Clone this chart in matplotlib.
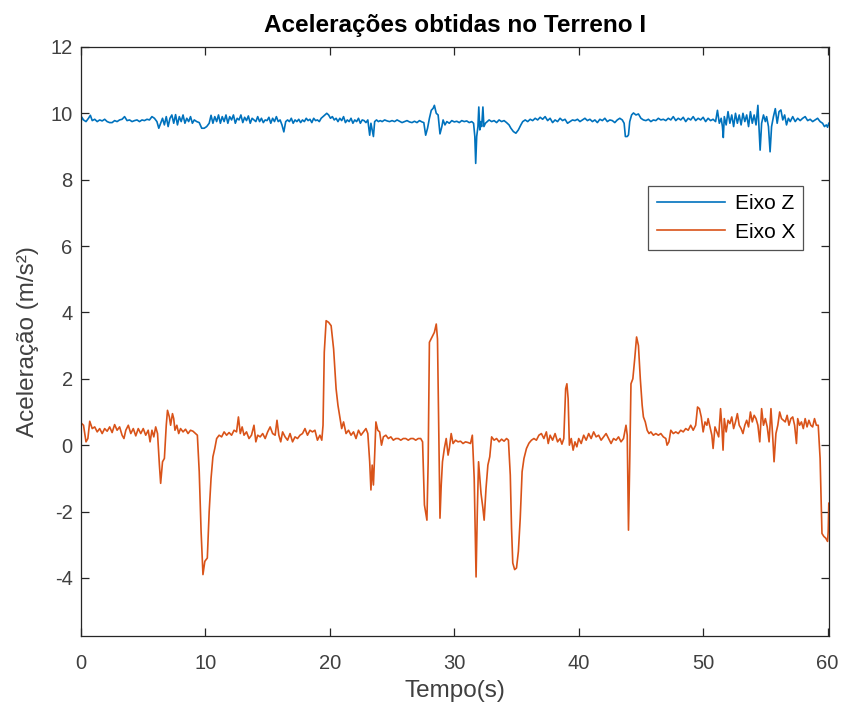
import matplotlib
matplotlib.use("Agg")
import matplotlib.pyplot as plt

plt.rcParams['font.family'] = ['Liberation Sans', 'DejaVu Sans']
plt.rcParams['axes.unicode_minus'] = False

title = "Acelerações obtidas no Terreno I"
xlabel = "Tempo(s)"
ylabel = "Aceleração (m/s²)"
labels = ["Eixo Z", "Eixo X"]
xticks = [0, 10, 20, 30, 40, 50, 60]
yticks = [-4, -2, 0, 2, 4, 6, 8, 10, 12]

t_x = [0.0, 0.2, 0.4, 0.55, 0.7, 0.9, 1.1, 1.3, 1.5, 1.7, 1.9, 2.1, 2.3, 2.5, 2.7, 2.9, 3.1, 3.3, 3.45, 3.6,
       3.8, 4.0, 4.2, 4.4, 4.6, 4.8, 5.0, 5.2, 5.4, 5.55, 5.7, 5.85, 6.0, 6.15, 6.3, 6.4, 6.55, 6.7, 6.85, 6.95,
       7.1, 7.2, 7.35, 7.45, 7.55, 7.7, 7.85, 8.0, 8.2, 8.4, 8.6, 8.8, 9.0, 9.2, 9.35, 9.5, 9.65, 9.8, 9.95, 10.15,
       10.3, 10.45, 10.6, 10.75, 10.9, 11.1, 11.3, 11.5, 11.7, 11.9, 12.1, 12.3, 12.5, 12.65, 12.8, 12.95, 13.1, 13.3, 13.5, 13.7,
       13.9, 14.05, 14.2, 14.4, 14.6, 14.8, 15.0, 15.2, 15.4, 15.6, 15.75, 15.9, 16.05, 16.2, 16.4, 16.6, 16.8, 17.0, 17.2, 17.4,
       17.6, 17.8, 18.0, 18.2, 18.4, 18.6, 18.8, 19.0, 19.2, 19.35, 19.45, 19.55, 19.7, 19.9, 20.1, 20.3, 20.5, 20.65, 20.8, 20.95,
       21.1, 21.3, 21.5, 21.7, 21.9, 22.1, 22.3, 22.5, 22.7, 22.9, 23.05, 23.2, 23.3, 23.4, 23.5, 23.6, 23.7, 23.85, 24.0, 24.15,
       24.3, 24.5, 24.7, 24.9, 25.1, 25.3, 25.5, 25.7, 25.9, 26.1, 26.3, 26.5, 26.7, 26.9, 27.1, 27.3, 27.45, 27.6, 27.8, 27.9,
       28.0, 28.2, 28.4, 28.55, 28.65, 28.75, 28.85, 28.95, 29.05, 29.2, 29.35, 29.5, 29.6, 29.75, 29.9, 30.1, 30.3, 30.5, 30.7, 30.9,
       31.1, 31.3, 31.45, 31.6, 31.75, 31.85, 31.95, 32.05, 32.15, 32.3, 32.4, 32.55, 32.7, 32.85, 33.0, 33.2, 33.4, 33.6, 33.8, 34.0,
       34.2, 34.35, 34.5, 34.6, 34.7, 34.85, 35.0, 35.15, 35.3, 35.45, 35.6, 35.8, 36.0, 36.2, 36.4, 36.6, 36.8, 37.0, 37.2, 37.4,
       37.55, 37.7, 37.9, 38.1, 38.3, 38.5, 38.65, 38.8, 38.95, 39.05, 39.15, 39.25, 39.4, 39.55, 39.7, 39.85, 40.0, 40.2, 40.4, 40.6,
       40.8, 41.0, 41.2, 41.4, 41.6, 41.8, 42.0, 42.2, 42.4, 42.6, 42.8, 43.0, 43.2, 43.4, 43.6, 43.8, 43.9, 44.0, 44.1, 44.2,
       44.35, 44.5, 44.65, 44.8, 44.95, 45.1, 45.2, 45.35, 45.5, 45.65, 45.8, 46.0, 46.2, 46.4, 46.6, 46.8, 47.0, 47.1, 47.25, 47.4,
       47.6, 47.8, 48.0, 48.2, 48.4, 48.6, 48.8, 49.0, 49.2, 49.4, 49.55, 49.7, 49.85, 50.0, 50.15, 50.3, 50.4, 50.55, 50.7, 50.8,
       50.95, 51.1, 51.25, 51.4, 51.5, 51.6, 51.7, 51.85, 52.0, 52.15, 52.3, 52.45, 52.6, 52.75, 52.9, 53.05, 53.2, 53.35, 53.5, 53.65,
       53.8, 53.95, 54.1, 54.25, 54.4, 54.55, 54.7, 54.85, 55.0, 55.15, 55.3, 55.45, 55.6, 55.7, 55.85, 56.0, 56.15, 56.3, 56.45, 56.6,
       56.75, 56.9, 57.05, 57.2, 57.35, 57.5, 57.6, 57.75, 57.9, 58.05, 58.2, 58.35, 58.5, 58.65, 58.8, 58.95, 59.1, 59.25, 59.4, 59.55,
       59.7, 59.85, 60.0, 60.05, 60.1]
acc_x = [0.67, 0.6, 0.1, 0.2, 0.72, 0.5, 0.55, 0.4, 0.5, 0.35, 0.5, 0.42, 0.55, 0.38, 0.62, 0.45, 0.55, 0.3, 0.2, 0.45,
         0.6, 0.35, 0.5, 0.28, 0.5, 0.35, 0.5, 0.3, 0.45, 0.1, 0.45, 0.25, 0.55, 0.35, -0.6, -1.15, -0.5, -0.4, 0.6, 1.05,
         0.85, 0.6, 0.95, 0.8, 0.45, 0.6, 0.35, 0.5, 0.4, 0.48, 0.35, 0.45, 0.42, 0.35, 0.3, -0.8, -2.6, -3.9, -3.5, -3.4,
         -2.0, -1.0, -0.35, -0.1, 0.2, 0.3, 0.25, 0.4, 0.3, 0.38, 0.3, 0.45, 0.4, 0.85, 0.35, 0.55, 0.3, 0.4, 0.2, 0.3,
         0.6, 0.1, 0.3, 0.25, 0.35, 0.2, 0.4, 0.55, 0.35, 0.3, 0.75, 0.3, 0.1, 0.4, 0.25, 0.15, 0.35, 0.1, 0.25, 0.2,
         0.3, 0.35, 0.5, 0.3, 0.45, 0.4, 0.45, 0.15, 0.3, 0.15, 0.6, 2.8, 3.75, 3.7, 3.6, 2.9, 1.7, 1.2, 0.85, 0.5,
         0.7, 0.35, 0.45, 0.3, 0.4, 0.2, 0.45, 0.3, 0.4, 0.5, 0.35, -0.5, -1.35, -0.6, -1.2, -0.3, 0.7, 0.45, 0.4, 0.0,
         0.25, 0.3, 0.2, 0.25, 0.15, 0.2, 0.2, 0.15, 0.2, 0.2, 0.15, 0.2, 0.2, 0.15, 0.2, 0.2, 0.1, -1.8, -2.26, -0.5,
         3.1, 3.25, 3.4, 3.65, 3.2, 0.5, -2.2, -1.2, -0.5, -0.1, 0.2, -0.3, -0.1, 0.35, 0.05, 0.15, 0.1, 0.12, 0.05, 0.1,
         0.08, 0.05, 0.3, -1.0, -3.97, -2.0, -0.5, -1.0, -1.46, -1.9, -2.26, -1.3, -0.6, -0.35, 0.25, 0.15, 0.2, 0.1, 0.18, 0.12,
         0.2, 0.15, -0.9, -2.5, -3.55, -3.75, -3.7, -3.2, -2.2, -0.8, -0.4, -0.1, 0.06, 0.15, 0.2, 0.15, 0.3, 0.35, 0.2, 0.4,
         0.05, 0.3, 0.15, 0.35, 0.1, 0.2, 0.03, 0.2, 1.7, 1.85, 1.4, 0.0, 0.2, -0.15, 0.1, -0.05, 0.2, 0.05, 0.3, 0.15,
         0.35, 0.2, 0.4, 0.25, 0.3, 0.15, 0.25, 0.35, 0.2, 0.05, 0.2, 0.15, 0.25, 0.1, 0.2, 0.6, 0.3, -2.56, -0.5, 1.85,
         2.0, 2.6, 3.26, 3.0, 2.0, 1.2, 0.85, 0.7, 0.45, 0.35, 0.4, 0.3, 0.35, 0.3, 0.35, 0.25, 0.2, 0.0, 0.1, 0.45,
         0.35, 0.4, 0.35, 0.45, 0.4, 0.5, 0.45, 0.6, 0.45, 0.6, 1.15, 1.1, 0.85, 0.4, 0.7, 0.6, 0.8, 0.55, 0.3, -0.1,
         0.55, 0.4, 0.25, 1.1, 0.6, -0.15, 0.8, 0.4, 0.75, 0.65, 0.85, 0.5, 0.7, 0.95, 0.6, 0.5, 0.35, 0.6, 0.75, 0.55,
         1.0, 0.7, 0.9, 0.8, 0.6, 0.1, 1.1, 0.6, 0.8, 0.55, 0.1, 1.1, 0.2, -0.5, 0.35, 0.6, 1.0, 0.8, 0.75, 0.7,
         0.9, 0.6, 0.8, 0.85, 0.6, 0.05, 0.8, 0.6, 0.7, 0.5, 0.8, 0.55, 0.75, 0.6, 0.55, 0.8, 0.6, 0.6, -0.4, -2.66,
         -2.75, -2.8, -2.9, -2.6, -1.75]

t_z = [0.0, 0.05, 0.2, 0.4, 0.6, 0.75, 0.9, 1.1, 1.3, 1.5, 1.7, 1.9, 2.1, 2.3, 2.5, 2.7, 2.9, 3.1, 3.3, 3.5,
       3.7, 3.9, 4.1, 4.3, 4.5, 4.7, 4.9, 5.1, 5.3, 5.5, 5.7, 5.9, 6.1, 6.25, 6.4, 6.55, 6.7, 6.85, 7.0, 7.15,
       7.3, 7.45, 7.6, 7.75, 7.9, 8.05, 8.2, 8.35, 8.5, 8.65, 8.8, 8.95, 9.1, 9.3, 9.5, 9.7, 9.9, 10.1, 10.3, 10.45,
       10.6, 10.75, 10.9, 11.05, 11.2, 11.35, 11.5, 11.65, 11.8, 11.95, 12.1, 12.25, 12.4, 12.55, 12.7, 12.85, 13.0, 13.15, 13.3, 13.45,
       13.6, 13.75, 13.9, 14.05, 14.2, 14.35, 14.5, 14.65, 14.8, 14.95, 15.1, 15.25, 15.4, 15.55, 15.7, 15.85, 16.0, 16.15, 16.3, 16.45,
       16.6, 16.75, 16.9, 17.05, 17.2, 17.35, 17.5, 17.65, 17.8, 17.95, 18.1, 18.25, 18.4, 18.55, 18.7, 18.85, 19.0, 19.15, 19.3, 19.45,
       19.6, 19.75, 19.9, 20.05, 20.2, 20.35, 20.5, 20.65, 20.8, 20.95, 21.1, 21.25, 21.4, 21.55, 21.7, 21.85, 22.0, 22.15, 22.3, 22.45,
       22.6, 22.75, 22.9, 23.05, 23.2, 23.3, 23.4, 23.5, 23.6, 23.75, 23.9, 24.05, 24.2, 24.4, 24.6, 24.8, 25.0, 25.2, 25.4, 25.6,
       25.8, 26.0, 26.2, 26.4, 26.6, 26.8, 27.0, 27.2, 27.4, 27.55, 27.7, 27.85, 28.0, 28.15, 28.3, 28.4, 28.55, 28.7, 28.85, 29.0,
       29.1, 29.25, 29.4, 29.6, 29.8, 30.0, 30.2, 30.4, 30.6, 30.8, 31.0, 31.2, 31.4, 31.55, 31.65, 31.72, 31.8, 31.9, 31.97, 32.05,
       32.12, 32.2, 32.3, 32.38, 32.5, 32.65, 32.8, 33.0, 33.2, 33.4, 33.6, 33.8, 34.0, 34.2, 34.4, 34.55, 34.75, 34.95, 35.15, 35.35,
       35.5, 35.7, 35.9, 36.1, 36.3, 36.5, 36.7, 36.9, 37.1, 37.3, 37.5, 37.7, 37.9, 38.1, 38.3, 38.5, 38.7, 38.9, 39.1, 39.3,
       39.5, 39.7, 39.9, 40.1, 40.3, 40.5, 40.7, 40.9, 41.1, 41.3, 41.5, 41.7, 41.9, 42.1, 42.3, 42.5, 42.7, 42.9, 43.1, 43.3,
       43.5, 43.65, 43.75, 43.9, 44.0, 44.1, 44.25, 44.4, 44.6, 44.8, 45.0, 45.2, 45.4, 45.6, 45.8, 46.0, 46.2, 46.4, 46.6, 46.8,
       47.0, 47.2, 47.4, 47.6, 47.8, 48.0, 48.2, 48.4, 48.6, 48.8, 49.0, 49.2, 49.4, 49.6, 49.8, 50.0, 50.2, 50.4, 50.6, 50.8,
       51.0, 51.15, 51.3, 51.45, 51.55, 51.62, 51.7, 51.85, 52.0, 52.15, 52.3, 52.45, 52.6, 52.75, 52.9, 53.05, 53.2, 53.35, 53.5, 53.65,
       53.8, 53.95, 54.1, 54.25, 54.4, 54.5, 54.58, 54.7, 54.85, 55.0, 55.1, 55.25, 55.38, 55.5, 55.65, 55.8, 55.95, 56.1, 56.25, 56.4,
       56.55, 56.7, 56.85, 57.0, 57.2, 57.4, 57.6, 57.8, 58.0, 58.2, 58.4, 58.6, 58.8, 59.0, 59.2, 59.4, 59.6, 59.75, 59.9, 60.0,
       60.1]
acc_z = [9.7, 9.89, 9.8, 9.75, 9.85, 9.94, 9.78, 9.82, 9.75, 9.8, 9.77, 9.82, 9.75, 9.72, 9.72, 9.78, 9.75, 9.8, 9.82, 9.9,
         9.78, 9.8, 9.75, 9.78, 9.8, 9.75, 9.8, 9.78, 9.82, 9.8, 9.9, 9.85, 9.75, 9.55, 9.7, 9.85, 9.65, 9.9, 9.6, 9.85,
         9.95, 9.7, 9.96, 9.65, 9.9, 9.75, 9.95, 9.7, 9.85, 9.75, 9.9, 9.7, 9.8, 9.75, 9.72, 9.55, 9.55, 9.6, 9.7, 9.94,
         9.7, 9.9, 9.75, 9.95, 9.7, 9.9, 9.75, 9.95, 9.7, 9.9, 9.8, 9.95, 9.7, 9.85, 9.8, 9.95, 9.72, 9.88, 9.78, 9.92,
         9.7, 9.85, 9.8, 9.75, 9.9, 9.75, 9.85, 9.72, 9.8, 9.78, 9.88, 9.7, 9.85, 9.75, 9.9, 9.75, 9.8, 9.65, 9.44, 9.75,
         9.8, 9.75, 9.85, 9.7, 9.8, 9.75, 9.82, 9.72, 9.8, 9.75, 9.85, 9.78, 9.82, 9.72, 9.85, 9.78, 9.8, 9.75, 9.85, 9.9,
         9.95, 10.0, 9.95, 9.85, 9.9, 9.8, 9.85, 9.75, 9.85, 9.78, 9.9, 9.72, 9.8, 9.75, 9.85, 9.7, 9.8, 9.75, 9.85, 9.7,
         9.8, 9.78, 9.72, 9.8, 9.34, 9.7, 9.5, 9.3, 9.75, 9.8, 9.75, 9.78, 9.75, 9.8, 9.77, 9.75, 9.78, 9.75, 9.8, 9.76,
         9.72, 9.75, 9.78, 9.74, 9.72, 9.76, 9.72, 9.78, 9.74, 9.72, 9.34, 9.55, 9.85, 10.09, 10.15, 10.24, 10.0, 9.95, 9.38, 9.6,
         9.8, 9.65, 9.75, 9.7, 9.78, 9.74, 9.76, 9.72, 9.78, 9.75, 9.77, 9.72, 9.75, 9.7, 9.3, 8.49, 9.3, 9.6, 10.19, 9.5,
         9.75, 9.6, 10.19, 9.6, 9.7, 9.75, 9.8, 9.75, 9.78, 9.72, 9.8, 9.75, 9.78, 9.72, 9.65, 9.55, 9.45, 9.4, 9.5, 9.65,
         9.75, 9.8, 9.75, 9.82, 9.78, 9.85, 9.8, 9.88, 9.82, 9.9, 9.78, 9.85, 9.72, 9.8, 9.75, 9.85, 9.78, 9.82, 9.7, 9.75,
         9.8, 9.78, 9.82, 9.75, 9.8, 9.85, 9.78, 9.82, 9.75, 9.8, 9.72, 9.82, 9.78, 9.85, 9.75, 9.8, 9.78, 9.72, 9.8, 9.85,
         9.8, 9.7, 9.3, 9.3, 9.35, 9.75, 9.95, 10.01, 9.95, 9.98, 9.85, 9.8, 9.78, 9.82, 9.75, 9.8, 9.78, 9.85, 9.8, 9.82,
         9.78, 9.85, 9.8, 9.9, 9.78, 9.85, 9.8, 9.88, 9.75, 9.85, 9.8, 9.9, 9.78, 9.85, 9.8, 9.88, 9.75, 9.85, 9.78, 9.82,
         9.75, 10.09, 9.7, 9.85, 9.6, 9.27, 9.9, 9.65, 10.05, 9.7, 9.95, 9.6, 10.0, 9.7, 9.95, 9.65, 10.0, 9.75, 9.95, 9.6,
         10.05, 9.7, 9.95, 9.65, 10.24, 9.5, 8.89, 9.7, 9.95, 9.75, 9.9, 9.6, 8.84, 9.6, 9.9, 10.14, 9.7, 10.05, 10.1, 9.8,
         9.95, 9.65, 9.85, 9.75, 9.9, 9.75, 9.85, 9.78, 9.85, 9.9, 9.78, 9.82, 9.75, 9.8, 9.85, 9.75, 9.7, 9.6, 9.65, 9.58,
         9.7]

fig = plt.figure(figsize=(8.44, 7.11), dpi=100)
ax = fig.add_axes([0.096, 0.1055, 0.886, 0.8285])

ax.plot(t_z, acc_z, color='#0072BD', lw=1.2, label=labels[0])
ax.plot(t_x, acc_x, color='#D95319', lw=1.2, label=labels[1])

ax.set_xlim(0, 60.1)
ax.set_ylim(-5.75, 12)
ax.set_xticks(xticks)
ax.set_yticks(yticks)

dark = '#262626'
for s in ax.spines.values():
    s.set_color(dark)
    s.set_linewidth(0.9)
ax.tick_params(direction='in', top=True, right=True, length=6, width=0.9,
               colors=dark, labelsize=14.5)
ax.tick_params(axis='x', pad=13)
ax.tick_params(axis='y', pad=6)
for lab in ax.get_xticklabels() + ax.get_yticklabels():
    lab.set_color('#404040')

ax.set_title(title, fontsize=17.5, fontweight='bold', color='black', pad=11)
ax.set_xlabel(xlabel, fontsize=17.5, color='#404040', labelpad=5)
ax.set_ylabel(ylabel, fontsize=17.5, color='#404040', labelpad=8)

leg = ax.legend(loc='upper right', bbox_to_anchor=(0.966, 0.764), fontsize=15,
                frameon=True, fancybox=False, handlelength=3.3, borderpad=0.4,
                labelspacing=0.45, handletextpad=0.45, borderaxespad=0)
leg.get_frame().set_edgecolor(dark)
leg.get_frame().set_linewidth(0.9)

fig.savefig('out.png', dpi=100)
